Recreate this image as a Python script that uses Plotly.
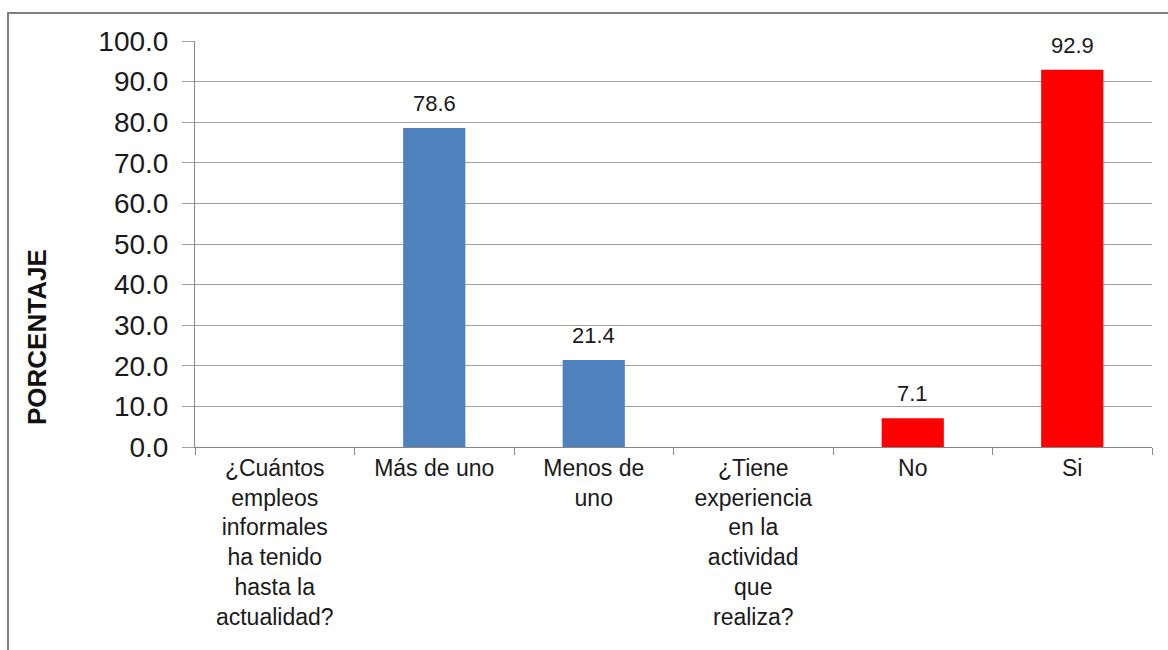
import plotly.graph_objects as go

categories = [
    "¿Cuántos<br>empleos<br>informales<br>ha tenido<br>hasta la<br>actualidad?",
    "Más de uno",
    "Menos de<br>uno",
    "¿Tiene<br>experiencia<br>en la<br>actividad<br>que<br>realiza?",
    "No",
    "Si",
]
values = [None, 78.6, 21.4, None, 7.1, 92.9]
colors = ["#4F81BD", "#4F81BD", "#4F81BD", "#FF0000", "#FF0000", "#FF0000"]
y_ticks = [0, 10, 20, 30, 40, 50, 60, 70, 80, 90, 100]
y_title = "PORCENTAJE"

font_family = "Liberation Sans, Arial, sans-serif"
L, R, T, B = 195, 16, 41, 203
W, H = 1168, 650
pw, ph = W - L - R, H - T - B

fig = go.Figure()
fig.add_trace(go.Bar(
    x=categories,
    y=values,
    marker=dict(color=colors, line=dict(width=0)),
    width=0.39,
))

value_labels = [
    dict(x=c, y=v, xref="x", yref="y", text=f"{v:.1f}", showarrow=False,
         yanchor="bottom", yshift=10,
         font=dict(family=font_family, size=22, color="#1a1a1a"))
    for c, v in zip(categories, values) if v is not None
]

fig.update_layout(
    width=W,
    height=H,
    margin=dict(l=L, r=R, t=T, b=B),
    paper_bgcolor="white",
    plot_bgcolor="white",
    showlegend=False,
    font=dict(family=font_family, color="#1a1a1a"),
    xaxis=dict(
        type="category",
        tickfont=dict(family=font_family, size=23, color="#1a1a1a"),
        showline=True,
        linecolor="#868686",
        linewidth=1,
        ticks="outside",
        tickson="boundaries",
        ticklen=7,
        tickcolor="#868686",
        showgrid=False,
    ),
    yaxis=dict(
        range=[0, 100],
        tickvals=y_ticks,
        tickformat=".1f",
        tickfont=dict(family=font_family, size=28, color="#1a1a1a"),
        showline=True,
        linecolor="#868686",
        linewidth=1,
        ticks="outside",
        ticklen=12,
        tickcolor="#A0A0A0",
        showgrid=True,
        gridcolor="#A0A0A0",
        gridwidth=1,
        zeroline=False,
        ticklabelstandoff=8,
    ),
    annotations=value_labels + [dict(
        text="<b>" + y_title + "</b>",
        xref="paper", yref="paper",
        x=(37 - L) / pw, y=(H - B - 337) / ph,
        xanchor="center", yanchor="middle",
        textangle=-90,
        showarrow=False,
        font=dict(family=font_family, size=26, color="#111111"),
    )],
    shapes=[dict(
        type="rect", xref="paper", yref="paper",
        x0=-(L - 8) / pw, x1=1.2,
        y0=-0.7, y1=1 + (T - 13) / ph,
        line=dict(color="#7F7F7F", width=2),
        fillcolor="rgba(0,0,0,0)",
        layer="below",
    )],
)

fig.write_html(
    "out.html",
    config={"displayModeBar": False},
    post_script="document.body.style.margin='0px';document.body.style.overflow='hidden';",
)
